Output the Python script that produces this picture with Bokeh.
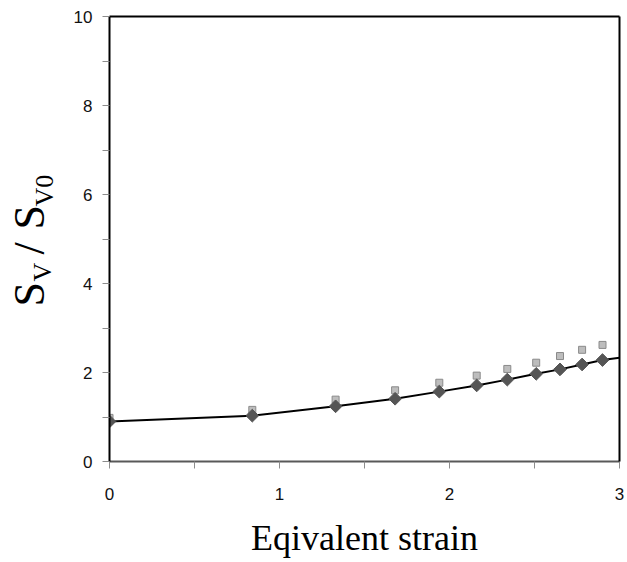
import math
from bokeh.plotting import figure
from bokeh.models import Range1d, FixedTicker, LinearAxis
from bokeh.layouts import row
from bokeh.core.properties import value
from bokeh.embed import file_html
from bokeh.resources import INLINE

# ---- data ----
strain = [0.0, 0.84, 1.33, 1.68, 1.94, 2.16, 2.34, 2.51, 2.65, 2.78, 2.90]
sv_diamond = [0.90, 1.03, 1.24, 1.41, 1.57, 1.71, 1.84, 1.97, 2.07, 2.18, 2.28]
sv_square = [0.98, 1.16, 1.39, 1.60, 1.77, 1.93, 2.08, 2.22, 2.37, 2.51, 2.62]
fit_x = strain + [3.0]
fit_y = sv_diamond + [2.33]
x_ticks = [0, 1, 2, 3]
x_minor = [0.5, 1.5, 2.5]
y_ticks = [0, 2, 4, 6, 8, 10]
y_minor = [1, 3, 5, 7, 9]

W, H = 627, 562
LW = 70  # width of the strip carrying the y-axis title
TOP, BOTTOM = 16, 101

p = figure(width=W - LW, height=H, output_backend="svg", toolbar_location=None,
           x_range=Range1d(0, 3), y_range=Range1d(0, 10),
           min_border_left=108 - LW, min_border_right=8, min_border_top=TOP,
           min_border_bottom=BOTTOM)
p.outline_line_color = None
p.background_fill_color = "white"
p.border_fill_color = "white"
p.xgrid.visible = False
p.ygrid.visible = False

for ax, ticks, minor in ((p.xaxis[0], x_ticks, x_minor), (p.yaxis[0], y_ticks, y_minor)):
    ax.ticker = FixedTicker(ticks=ticks, minor_ticks=minor)
    ax.major_tick_in = 0
    ax.major_tick_out = 7
    ax.minor_tick_in = 0
    ax.minor_tick_out = 7
    ax.major_tick_line_color = "#8c8c8c"
    ax.minor_tick_line_color = "#8c8c8c"
    ax.major_label_text_font = "Liberation Sans"
    ax.major_label_text_font_size = "17px"
    ax.major_label_text_color = "#111111"

p.xaxis[0].axis_line_color = "#595959"
p.xaxis[0].axis_line_width = 2
p.xaxis[0].major_label_standoff = 19
p.xaxis[0].axis_label = "Eqivalent strain"
p.xaxis[0].axis_label_text_font = "Liberation Serif"
p.xaxis[0].axis_label_text_font_size = "36px"
p.xaxis[0].axis_label_text_font_style = "normal"
p.xaxis[0].axis_label_text_color = "black"
p.xaxis[0].axis_label_standoff = 15

p.yaxis[0].axis_line_color = "black"
p.yaxis[0].axis_line_width = 2
p.yaxis[0].major_label_standoff = 10

for side in ("above", "right"):
    a = LinearAxis(axis_line_color="black", axis_line_width=2,
                   major_tick_line_color=None, minor_tick_line_color=None,
                   major_label_text_font_size="0px", major_label_text_color=None)
    p.add_layout(a, side)

# series
p.line(fit_x, fit_y, line_color="black", line_width=2)
p.scatter(strain, sv_square, marker="square", size=7, fill_color="#bdbdbd",
          line_color="#8a8a8a", line_width=1)
p.scatter(strain, sv_diamond, marker="square", angle=math.pi / 4, size=9,
          fill_color="#555555", line_color="#555555")

# ---- y-axis title strip: S_V / S_V0 with subscripts ----
# the strip's frame is aligned with the main frame (rows align frames),
# so its y range is chosen to make 1 unit = 1 pixel, counted up from the bottom
t = figure(width=LW, height=H, output_backend="svg", toolbar_location=None,
           x_range=Range1d(0, LW), y_range=Range1d(BOTTOM, H - TOP),
           min_border=0, min_border_left=0, min_border_right=0,
           min_border_top=TOP, min_border_bottom=BOTTOM)
t.axis.visible = False
t.grid.visible = False
t.outline_line_color = None
t.background_fill_color = "white"
t.border_fill_color = "white"

big_txt = ["S", "/", "S"]
big_px = [29, 29, 29]
big_py = [306, 254, 229]
small_txt = ["V", "V0"]
small_px = [42, 44]
small_py = [281, 206]

t.text(x=big_px, y=[H - v for v in big_py], text=big_txt, angle=math.pi / 2,
       text_font=value("Liberation Serif"), text_font_size="44px",
       text_color="black", text_align="left", text_baseline="alphabetic")
t.text(x=small_px, y=[H - v for v in small_py], text=small_txt, angle=math.pi / 2,
       text_font=value("Liberation Serif"), text_font_size="26px",
       text_color="black", text_align="left", text_baseline="alphabetic")

layout = row(t, p, spacing=0)
open("out.html", "w").write(file_html(layout, INLINE))
